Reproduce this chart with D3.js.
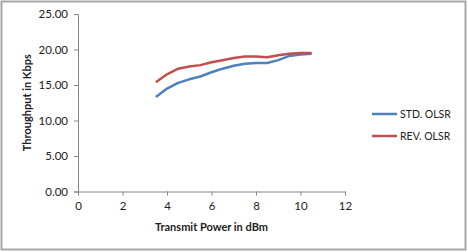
<!DOCTYPE html>
<html>
<head>
<meta charset="utf-8">
<script src="https://cdn.jsdelivr.net/npm/d3@7"></script>
<style>
  body { margin: 0; background: #fff; }
  text { font-family: Lato, "Open Sans", sans-serif; fill: #222; }
</style>
</head>
<body>
<div id="chart"></div>
<script>
var power = [3.5, 4, 4.5, 5, 5.5, 6, 6.5, 7, 7.5, 8, 8.5, 9, 9.5, 10, 10.5];
var stdOlsr = [13.3, 14.5, 15.3, 15.8, 16.2, 16.8, 17.3, 17.7, 18.0, 18.1, 18.1, 18.5, 19.1, 19.3, 19.4];
var revOlsr = [15.4, 16.5, 17.3, 17.6, 17.8, 18.2, 18.5, 18.8, 19.0, 19.0, 18.9, 19.2, 19.4, 19.5, 19.5];
var seriesNames = ["STD. OLSR", "REV. OLSR"];
var xTicks = [0, 2, 4, 6, 8, 10, 12];
var yTicks = [0, 5, 10, 15, 20, 25];

(function(){
  var width = 468, height = 252;

  var svg = d3.select("#chart").append("svg")
    .attr("width", width)
    .attr("height", height);

  // outer frame
  svg.append("rect")
    .attr("x", 1.5).attr("y", 1.5)
    .attr("width", width - 4).attr("height", height - 4)
    .attr("fill", "#fff").attr("stroke", "#a6a6a6").attr("stroke-width", 2);

  var x = d3.scaleLinear().domain([0, 12]).range([78, 345]);
  var y = d3.scaleLinear().domain([0, 25]).range([191.5, 14]);

  var xAxis = svg.append("g")
    .attr("transform", "translate(0," + y(0) + ")")
    .call(d3.axisBottom(x).tickValues(xTicks).tickSize(4).tickPadding(6).tickFormat(d3.format("d")));
  var yAxis = svg.append("g")
    .attr("transform", "translate(" + x(0) + ",0)")
    .call(d3.axisLeft(y).tickValues(yTicks).tickSize(4).tickPadding(6).tickFormat(d3.format(".2f")));

  [xAxis, yAxis].forEach(function(a){
    a.selectAll("path, line").attr("stroke", "#868686");
    a.selectAll("text").style("font-size", "11.5px").style("font-family", "Lato, sans-serif").attr("fill", "#222");
  });

  svg.append("text")
    .attr("x", (x(0) + x(12)) / 2).attr("y", 231)
    .attr("text-anchor", "middle")
    .style("font-size", "11px").style("font-weight", "bold")
    .text("Transmit Power in dBm");

  svg.append("text")
    .attr("transform", "translate(31," + y(12.5) + ") rotate(-90)")
    .attr("text-anchor", "middle")
    .style("font-size", "11px").style("font-weight", "bold")
    .text("Throughput in Kbps");

  var colors = ["#4f81bd", "#c0504d"];
  var data = [stdOlsr, revOlsr];

  var line = d3.line()
    .x(function(d, i){ return x(power[i]); })
    .y(function(d){ return y(d); });

  data.forEach(function(s, k){
    svg.append("path")
      .datum(s)
      .attr("d", line)
      .attr("fill", "none")
      .attr("stroke", colors[k])
      .attr("stroke-width", 2.5)
      .attr("stroke-linejoin", "round");
  });

  var legend = svg.selectAll(".leg")
    .data(seriesNames)
    .enter().append("g")
    .attr("class", "leg")
    .attr("transform", function(d, i){ return "translate(372," + (114 + i * 22) + ")"; });
  legend.append("line")
    .attr("x1", 0).attr("x2", 25)
    .attr("stroke", function(d, i){ return colors[i]; })
    .attr("stroke-width", 2.5);
  legend.append("text")
    .attr("x", 28).attr("dy", "0.35em")
    .style("font-size", "10.5px")
    .text(function(d){ return d; });
})();
</script>
</body>
</html>
